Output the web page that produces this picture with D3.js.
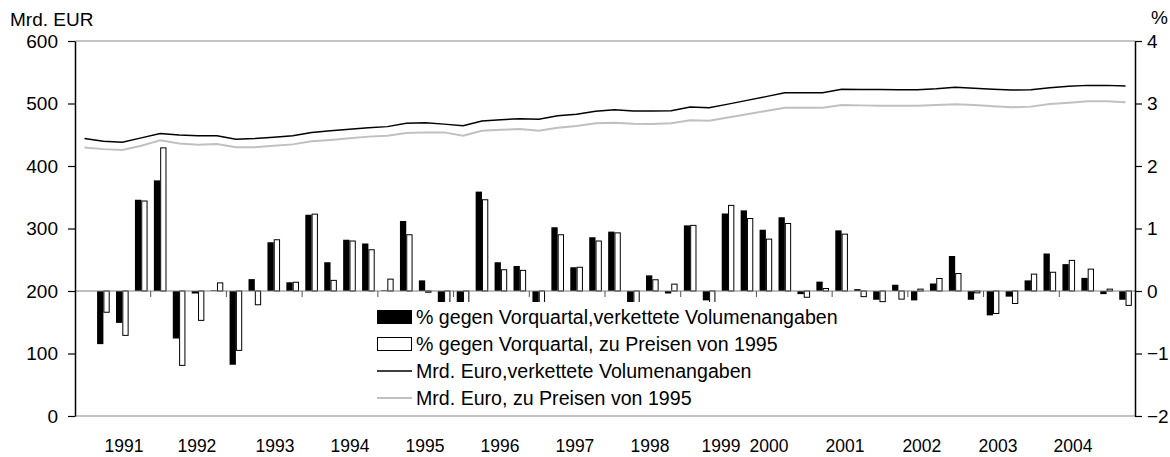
<!DOCTYPE html>
<html>
<head>
<meta charset="utf-8">
<script src="https://cdn.jsdelivr.net/npm/d3@7"></script>
<style>
  body { margin: 0; background: #fff; }
  text { font-family: "Liberation Sans", Arial, Helvetica, sans-serif; }
</style>
</head>
<body>
<div id="chart"></div>
<script>
const years = [1991, 1992, 1993, 1994, 1995, 1996, 1997, 1998, 1999, 2000, 2001, 2002, 2003, 2004];
const quarters = years.flatMap(y => ["Q1", "Q2", "Q3", "Q4"].map(q => `${y} ${q}`));

// % gegen Vorquartal, verkettete Volumenangaben
const pctChained = [null, -0.85, -0.51, 1.46, 1.77, -0.76, -0.04, 0.01, -1.18, 0.19, 0.78, 0.14,
  1.22, 0.46, 0.82, 0.76, 0.01, 1.12, 0.17, -0.4, -0.5, 1.59, 0.46, 0.40,
  -0.25, 1.02, 0.38, 0.86, 0.95, -0.4, 0.25, -0.04, 1.05, -0.15, 1.24, 1.29,
  0.98, 1.18, -0.05, 0.15, 0.97, 0.03, -0.14, 0.10, -0.15, 0.12, 0.56, -0.14,
  -0.39, -0.09, 0.17, 0.60, 0.43, 0.21, -0.05, -0.14];
// % gegen Vorquartal, zu Preisen von 1995
const pct1995 = [null, -0.34, -0.71, 1.44, 2.29, -1.19, -0.47, 0.13, -0.95, -0.22, 0.82, 0.14,
  1.23, 0.17, 0.80, 0.66, 0.19, 0.90, -0.02, -0.35, -0.4, 1.46, 0.34, 0.33,
  -0.5, 0.90, 0.38, 0.80, 0.93, -0.3, 0.18, 0.11, 1.05, -0.25, 1.37, 1.16,
  0.83, 1.08, -0.10, 0.04, 0.91, -0.09, -0.17, -0.13, 0.03, 0.20, 0.28, -0.03,
  -0.36, -0.20, 0.27, 0.30, 0.49, 0.35, 0.03, -0.23];
// Mrd. Euro, verkettete Volumenangaben
const eurChained = [444, 439.5, 438, 445, 452, 449.5, 448.5, 448.5, 443, 444, 446, 448.5,
  453.5, 456.5, 458.7, 461.3, 463, 468.3, 469.3, 467, 464.5, 472, 474, 475.7,
  474.7, 480.5, 482.7, 487.5, 490, 488, 488, 488.5, 494.4, 493.3, 499, 505,
  511, 517.3, 517.3, 517.3, 522.7, 522.5, 522.3, 522, 522, 523.5, 525.9, 524.3,
  522.7, 521.6, 522, 525.3, 527.5, 529, 529, 528];
// Mrd. Euro, zu Preisen von 1995
const eur1995 = [429.5, 427, 425.5, 432.5, 441, 436, 434, 435, 430, 430, 432.5, 434.6,
  439.5, 441.6, 444.3, 447, 448.5, 452.8, 453.8, 453.8, 448.5, 456.5, 458, 459,
  456.5, 461.3, 464, 468.3, 469.3, 467.7, 467.2, 468.3, 473.1, 472.5, 477.6, 482.7,
  488, 493.3, 493.3, 493.3, 497.6, 497, 496.5, 496.3, 496.5, 497.5, 498.7, 497.6,
  495.5, 493.9, 495, 499.2, 501.3, 503.5, 503.5, 501.9];

const leftTicks = [0, 100, 200, 300, 400, 500, 600];
const rightTicks = [-2, -1, 0, 1, 2, 3, 4];
const legendLabels = [
  "% gegen Vorquartal,verkettete Volumenangaben",
  "% gegen Vorquartal, zu Preisen von 1995",
  "Mrd. Euro,verkettete Volumenangaben",
  "Mrd. Euro, zu Preisen von 1995"
];

// layout
const width = 1170, height = 457;
const plot = { left: 75, right: 1135, top: 41, bottom: 416 };
// where each year label sits, in quarter widths from the year's first quarter
const yearLabelShift = [2.59, 2.44, 2.57, 2.53, 2.49, 2.45, 2.41, 2.38, 2.13, 0.66, 0.68, 0.74, 0.76, 0.72];
const fontSize = 19;

const svg = d3.select("#chart").append("svg")
  .attr("width", width)
  .attr("height", height);

const x = d3.scaleBand().domain(quarters).range([plot.left, plot.right]);
const yL = d3.scaleLinear().domain([0, 600]).range([plot.bottom, plot.top]);
const yR = d3.scaleLinear().domain([-2, 4]).range([plot.bottom, plot.top]);
const bw = x.bandwidth() / 3;
const cx = q => x(q) + x.bandwidth() / 2;

// plot frame top/bottom
svg.append("line")
  .attr("x1", plot.left).attr("x2", plot.right)
  .attr("y1", plot.top).attr("y2", plot.top)
  .attr("stroke", "#8a8a8a").attr("stroke-width", 1.2);
svg.append("line")
  .attr("x1", plot.left).attr("x2", plot.right)
  .attr("y1", plot.bottom).attr("y2", plot.bottom)
  .attr("stroke", "#8a8a8a").attr("stroke-width", 1.2);

// bars
const barData = quarters.map((q, i) => ({ q, a: pctChained[i], b: pct1995[i] }))
  .filter(d => d.a !== null);

svg.append("g").selectAll("rect")
  .data(barData)
  .enter()
  .append("rect")
  .attr("x", d => cx(d.q) - bw)
  .attr("y", d => yR(Math.max(0, d.a)))
  .attr("width", bw)
  .attr("height", d => Math.abs(yR(d.a) - yR(0)))
  .attr("fill", "#000");

svg.append("g").selectAll("rect")
  .data(barData)
  .enter()
  .append("rect")
  .attr("x", d => cx(d.q) + 0.5)
  .attr("y", d => yR(Math.max(0, d.b)))
  .attr("width", bw - 1)
  .attr("height", d => Math.abs(yR(d.b) - yR(0)))
  .attr("fill", "#fff")
  .attr("stroke", "#000")
  .attr("stroke-width", 1);

// category axis at 0 %
svg.append("line")
  .attr("x1", plot.left).attr("x2", plot.right)
  .attr("y1", yR(0)).attr("y2", yR(0))
  .attr("stroke", "#808080").attr("stroke-width", 1);
svg.append("g").selectAll("line")
  .data(years.slice(1))
  .enter()
  .append("line")
  .attr("x1", d => x(`${d} Q1`)).attr("x2", d => x(`${d} Q1`))
  .attr("y1", yR(0)).attr("y2", yR(0) + 6)
  .attr("stroke", "#555").attr("stroke-width", 1);

// legend (white box hides the bar ends behind it)
const lg = svg.append("g").attr("transform", "translate(368,302)");
lg.append("rect")
  .attr("width", 478).attr("height", 110)
  .attr("fill", "#fff");
legendLabels.forEach((label, i) => {
  const yy = 15 + i * 27;
  if (i === 0) {
    lg.append("rect").attr("x", 9).attr("y", yy - 7).attr("width", 35).attr("height", 14).attr("fill", "#000");
  } else if (i === 1) {
    lg.append("rect").attr("x", 9.5).attr("y", yy - 6.5).attr("width", 34).attr("height", 13)
      .attr("fill", "#fff").attr("stroke", "#000").attr("stroke-width", 1);
  } else {
    lg.append("line").attr("x1", 9).attr("x2", 44).attr("y1", yy).attr("y2", yy)
      .attr("stroke", i === 2 ? "#000" : "#c0c0c0").attr("stroke-width", i === 2 ? 1.5 : 2);
  }
  lg.append("text")
    .attr("x", 48).attr("y", yy + 7)
    .text(label)
    .style("font-size", "19.6px")
    .attr("fill", "#000");
});

// lines
const line = d3.line()
  .x((d, i) => cx(quarters[i]))
  .y(d => yL(d));
svg.append("path")
  .datum(eur1995)
  .attr("d", line)
  .attr("fill", "none")
  .attr("stroke", "#c0c0c0")
  .attr("stroke-width", 2);
svg.append("path")
  .datum(eurChained)
  .attr("d", line)
  .attr("fill", "none")
  .attr("stroke", "#000")
  .attr("stroke-width", 1.5);

// axes
const leftAxis = svg.append("g")
  .attr("transform", `translate(${plot.left},0)`)
  .call(d3.axisLeft(yL).tickValues(leftTicks).tickSize(7).tickPadding(10).tickSizeOuter(0));
const rightAxis = svg.append("g")
  .attr("transform", `translate(${plot.right},0)`)
  .call(d3.axisRight(yR).tickValues(rightTicks).tickFormat(d3.format("d"))
    .tickSize(7).tickPadding(5).tickSizeOuter(0));
[leftAxis, rightAxis].forEach(ax => {
  ax.select(".domain").attr("stroke", "#000").attr("stroke-width", 1.5);
  ax.selectAll(".tick line").attr("stroke", "#000").attr("stroke-width", 1.2);
  ax.selectAll(".tick text")
    .style("font-size", `${fontSize}px`)
    .style("font-family", "'Liberation Sans', Arial, sans-serif")
    .attr("fill", "#000");
});

// year labels
svg.append("g").selectAll("text")
  .data(years)
  .enter()
  .append("text")
  .attr("x", (d, i) => x(`${d} Q1`) + yearLabelShift[i] * x.bandwidth())
  .attr("y", 452)
  .attr("text-anchor", "middle")
  .style("font-size", "17.5px")
  .text(d => d);

// axis titles
svg.append("text")
  .attr("x", 10).attr("y", 26)
  .style("font-size", `${fontSize}px`)
  .text("Mrd. EUR");
svg.append("text")
  .attr("x", 1151).attr("y", 24)
  .style("font-size", `${fontSize}px`)
  .text("%");
</script>
</body>
</html>
